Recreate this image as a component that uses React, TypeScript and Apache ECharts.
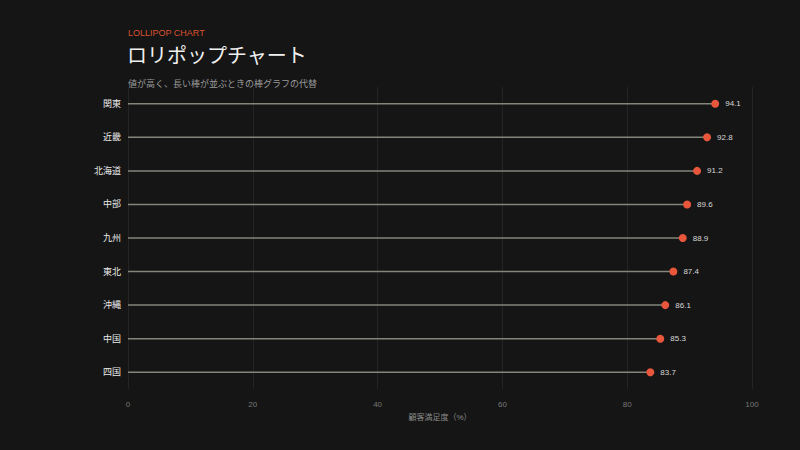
import { useEffect, useRef } from 'react';
import * as echarts from 'echarts';

const regions = ['関東', '近畿', '北海道', '中部', '九州', '東北', '沖縄', '中国', '四国'];
const scores = [94.1, 92.8, 91.2, 89.6, 88.9, 87.4, 86.1, 85.3, 83.7];
const xTicks = [0, 20, 40, 60, 80, 100];

const FONT = '"Liberation Sans", "Noto Sans CJK JP", sans-serif';

export default function App() {
  const chartRef = useRef<HTMLDivElement>(null);

  useEffect(() => {
    if (!chartRef.current) return;
    const chart = echarts.init(chartRef.current, undefined, { renderer: 'svg' });

    const option: echarts.EChartsOption = {
      animation: false,
      backgroundColor: '#151515',
      textStyle: { fontFamily: FONT },
      title: [
        {
          text: 'LOLLIPOP CHART',
          left: 128,
          top: 28,
          padding: 0,
          textStyle: { color: '#d9532f', fontSize: 9, fontWeight: 'normal', fontFamily: FONT },
        },
        {
          text: 'ロリポップチャート',
          left: 127,
          top: 46,
          padding: 0,
          textStyle: { color: '#f0f0f0', fontSize: 20, fontWeight: 'normal', fontFamily: FONT },
        },
        {
          text: '値が高く、長い棒が並ぶときの棒グラフの代替',
          left: 128,
          top: 79,
          padding: 0,
          textStyle: { color: '#9a9a9a', fontSize: 9, fontWeight: 'normal', fontFamily: FONT },
        },
      ],
      grid: { left: 128, right: 48, top: 87, bottom: 61, containLabel: false },
      xAxis: {
        type: 'value',
        min: 0,
        max: 100,
        interval: 20,
        name: '顧客満足度（%）',
        nameLocation: 'middle',
        nameGap: 24,
        nameTextStyle: { color: '#8a8a8a', fontSize: 8 },
        axisLine: { show: false },
        axisTick: { show: false },
        axisLabel: {
          color: '#777777',
          fontSize: 8,
          margin: 11,
          formatter: (v: number) => (xTicks.includes(v) ? String(v) : ''),
        },
        splitLine: { show: true, lineStyle: { color: '#242424', width: 1 } },
      },
      yAxis: {
        type: 'category',
        data: regions,
        inverse: true,
        axisLine: { show: false },
        axisTick: { show: false },
        splitLine: { show: false },
        axisLabel: { color: '#e8e8e8', fontSize: 9, margin: 7 },
      },
      series: [
        {
          type: 'bar',
          data: scores,
          barWidth: 1.5,
          itemStyle: { color: '#85857c' },
          silent: true,
        },
        {
          type: 'scatter',
          data: scores,
          symbol: 'circle',
          symbolSize: 8,
          itemStyle: { color: '#e8573c', opacity: 1 },
          label: {
            show: true,
            position: 'right',
            distance: 6,
            color: '#d8d8d8',
            fontSize: 8,
            formatter: (p: any) => Number(p.value).toFixed(1),
          },
          z: 3,
        },
      ],
    };

    chart.setOption(option);
    return () => chart.dispose();
  }, []);

  return <div ref={chartRef} style={{ width: 800, height: 450, position: 'fixed', left: 0, top: 0 }} />;
}
